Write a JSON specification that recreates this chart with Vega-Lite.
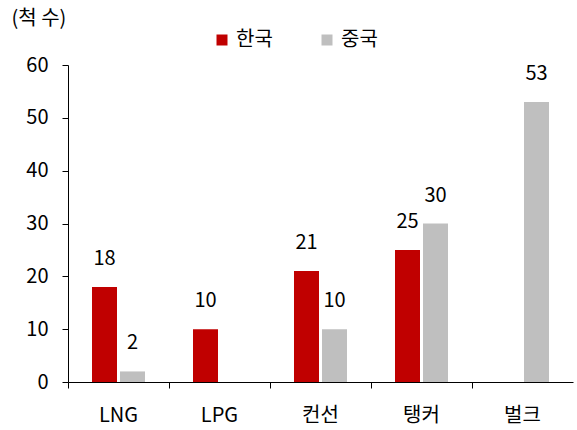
{
  "$schema": "https://vega.github.io/schema/vega-lite/v6.json",
  "width": 505,
  "height": 317,
  "autosize": "none",
  "padding": {"left": 68, "top": 65, "right": 4, "bottom": 48},
  "background": "white",
  "config": {
    "font": "Noto Sans CJK KR",
    "view": {"stroke": null}
  },
  "data": {
    "values": [
      {"type": "LNG", "country": "한국", "count": 18},
      {"type": "LNG", "country": "중국", "count": 2},
      {"type": "LPG", "country": "한국", "count": 10},
      {"type": "컨선", "country": "한국", "count": 21},
      {"type": "컨선", "country": "중국", "count": 10},
      {"type": "탱커", "country": "한국", "count": 25},
      {"type": "탱커", "country": "중국", "count": 30},
      {"type": "벌크", "country": "중국", "count": 53}
    ]
  },
  "encoding": {
    "x": {
      "field": "type",
      "type": "nominal",
      "sort": ["LNG", "LPG", "컨선", "탱커", "벌크"],
      "scale": {"paddingInner": 0, "paddingOuter": 0},
      "axis": {
        "title": null,
        "labelAngle": 0,
        "labelFontSize": 20,
        "labelColor": "#000",
        "labelPadding": 17,
        "tickSize": 6,
        "tickColor": "#000",
        "domainColor": "#000",
        "bandPosition": 0,
        "grid": false
      }
    },
    "xOffset": {
      "field": "country",
      "type": "nominal",
      "sort": ["한국", "중국"],
      "scale": {"paddingInner": 0.107, "paddingOuter": 0.857}
    },
    "y": {
      "field": "count",
      "type": "quantitative",
      "scale": {"domain": [0, 60]},
      "axis": {
        "values": [0, 10, 20, 30, 40, 50, 60],
        "grid": false,
        "labelFontSize": 20,
        "labelColor": "#000",
        "labelPadding": 14,
        "tickSize": 6,
        "tickColor": "#000",
        "domainColor": "#000",
        "title": "(척 수)",
        "titleAngle": 0,
        "titleAlign": "left",
        "titleBaseline": "alphabetic",
        "titleX": -57,
        "titleY": -41,
        "titleFontSize": 20,
        "titleFontWeight": "normal",
        "titleColor": "#000"
      }
    }
  },
  "layer": [
    {
      "mark": {"type": "bar"},
      "encoding": {
        "color": {
          "field": "country",
          "type": "nominal",
          "scale": {"domain": ["한국", "중국"], "range": ["#C00000", "#BFBFBF"]},
          "legend": {
            "title": null,
            "orient": "none",
            "direction": "horizontal",
            "legendX": 144,
            "legendY": -35,
            "symbolType": "square",
            "symbolSize": 121,
            "symbolStrokeWidth": 0,
            "labelFontSize": 20,
            "labelColor": "#000",
            "labelOffset": 4,
            "columnPadding": 44
          }
        }
      }
    },
    {
      "mark": {"type": "text", "dy": -28, "fontSize": 20, "baseline": "middle", "color": "#000"},
      "encoding": {
        "text": {"field": "count", "type": "quantitative"}
      }
    }
  ]
}
